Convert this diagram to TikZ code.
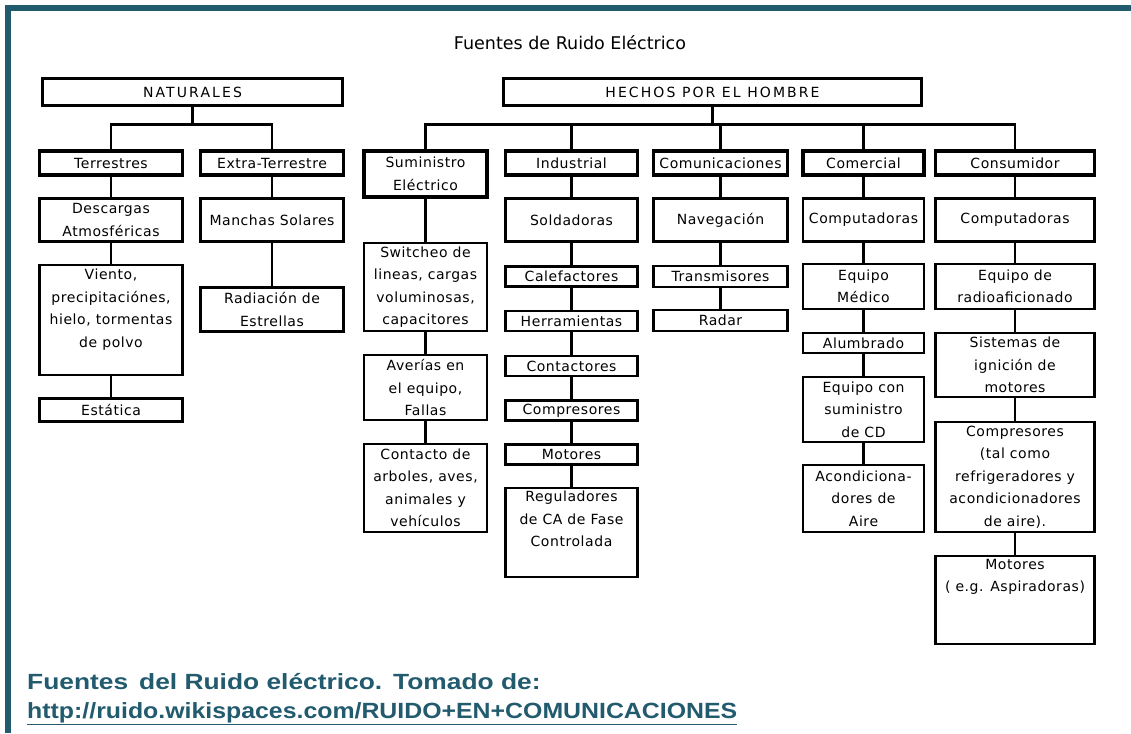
\documentclass[tikz,border=0pt]{standalone}
\usepackage{fontspec}
\usepackage{tikz}
\setmainfont{DejaVu Sans}
\newfontfamily\boxfont[LetterSpace=4]{DejaVu Sans}
\newfontfamily\capsfont[LetterSpace=15]{DejaVu Sans}
\newfontfamily\captionfont{Liberation Sans}
\definecolor{frameteal}{HTML}{225A6E}
\tikzstyle{box} = [draw, rectangle, line width=2.6pt, inner sep=0pt, align=center, font=\boxfont\fontsize{14}{22.5}\selectfont]
\tikzstyle{head} = [box, line width=3.4pt]
\tikzstyle{link} = [line width=2.4pt]
\tikzstyle{caption} = [anchor=base west, inner sep=0pt, xscale=1.13, text=frameteal, font=\captionfont\bfseries\fontsize{22}{26}\selectfont]

\begin{document}
\begin{tikzpicture}[x=1pt, y=-1pt]
        \useasboundingbox (0,0) rectangle (1131,733);
        % Frame
        \fill[frameteal] (5,5) rectangle (1131,11);
        \fill[frameteal] (5,5) rectangle (11,733);

        \node (title) at (570,43) {\fontsize{17.5}{20}\selectfont Fuentes de Ruido Eléctrico};

        % Top level
        \node[head, minimum width=300pt, minimum height=27pt, font=\capsfont\fontsize{14}{16}\selectfont] (nat) at (192.5,92) {NATURALES};
        \node[head, minimum width=418pt, minimum height=27pt, font=\capsfont\fontsize{14}{16}\selectfont] (hom) at (712.5,92) {HECHOS POR EL HOMBRE};

        % Naturales
        \node[head, minimum width=143pt, minimum height=24pt] (ter) at (111,163) {Terrestres};
        \node[head, minimum width=143pt, minimum height=24pt] (ext) at (272,163) {Extra-Terrestre};
        \node[box, minimum width=143pt, minimum height=43pt] (des) at (111,220) {Descargas\\Atmosféricas};
        \node[box, minimum width=143pt, minimum height=43pt] (man) at (272,220) {Manchas Solares};
        \node[box] (vie) at (111,320) {\parbox[c][110pt][t]{143pt}{\centering\vspace{4pt}Viento,\\precipitaciónes,\\hielo, tormentas\\de polvo}};
        \node[box, minimum width=143pt, minimum height=23pt] (est) at (111,410) {Estática};
        \node[box, minimum width=143pt, minimum height=44pt] (rad) at (272,309.5) {Radiación de\\Estrellas};

        % Hechos por el hombre
        \node[head, minimum width=123pt, minimum height=46pt] (sum) at (425.5,174) {Suministro\\Eléctrico};
        \node[head, minimum width=132pt, minimum height=24pt] (ind) at (571.5,163) {Industrial};
        \node[head, minimum width=134pt, minimum height=24pt] (com) at (720.5,163) {Comunicaciones};
        \node[head, minimum width=121pt, minimum height=24pt] (cme) at (863.5,163) {Comercial};
        \node[head, minimum width=159pt, minimum height=24pt] (con) at (1015,163) {Consumidor};

        \node[box, minimum width=123pt, minimum height=88pt] (swi) at (425.5,287) {Switcheo de\\lineas, cargas\\voluminosas,\\capacitores};
        \node[box, minimum width=123pt, minimum height=65pt] (ave) at (425.5,387.5) {Averías en\\el equipo,\\Fallas};
        \node[box, minimum width=123pt, minimum height=88pt] (cto) at (425.5,488) {Contacto de\\arboles, aves,\\animales y\\vehículos};

        \node[box, minimum width=132pt, minimum height=43pt] (sol) at (571.5,220) {Soldadoras};
        \node[box, minimum width=132pt, minimum height=20pt] (cal) at (571.5,276.5) {Calefactores};
        \node[box, minimum width=132pt, minimum height=20pt] (her) at (571.5,321) {Herramientas};
        \node[box, minimum width=132pt, minimum height=20pt] (ctr) at (571.5,366) {Contactores};
        \node[box, minimum width=132pt, minimum height=20pt] (cmp) at (571.5,410.5) {Compresores};
        \node[box, minimum width=132pt, minimum height=20pt] (mot) at (571.5,454.5) {Motores};
        \node[box] (reg) at (571.5,532.5) {\parbox[c][89pt][t]{132pt}{\centering\vspace{3pt}Reguladores\\de CA de Fase\\Controlada}};

        \node[box, minimum width=134pt, minimum height=43pt] (nav) at (720.5,220) {Navegación};
        \node[box, minimum width=134pt, minimum height=21pt] (tra) at (720.5,276.5) {Transmisores};
        \node[box, minimum width=134pt, minimum height=21pt] (rda) at (720.5,320.5) {Radar};

        \node[box, minimum width=121pt, minimum height=43pt] (cpa) at (863.5,220) {Computadoras};
        \node[box, minimum width=121pt, minimum height=45pt] (med) at (863.5,286.5) {Equipo\\Médico};
        \node[box, minimum width=121pt, minimum height=20pt] (alu) at (863.5,343) {Alumbrado};
        \node[box, minimum width=121pt, minimum height=65pt] (scd) at (863.5,409.5) {Equipo con\\suministro\\de CD};
        \node[box, minimum width=121pt, minimum height=67pt] (aco) at (863.5,498.5) {Acondiciona-\\dores de\\Aire};

        \node[box, minimum width=159pt, minimum height=43pt] (cpb) at (1015,220) {Computadoras};
        \node[box, minimum width=159pt, minimum height=45pt] (rdo) at (1015,286.5) {Equipo de\\radioaficionado};
        \node[box, minimum width=159pt, minimum height=64pt] (ign) at (1015,365) {Sistemas de\\ignición de\\motores};
        \node[box, minimum width=159pt, minimum height=110pt] (cmq) at (1015,477) {Compresores\\(tal como\\refrigeradores y\\acondicionadores\\de aire).};
        \node[box] (mtq) at (1015,600) {\parbox[c][88pt][t]{159pt}{\centering\vspace{3pt}Motores\\( e.g. Aspiradoras)}};

        % Buses
        \coordinate (natbus) at (192.5,124.5);
        \coordinate (hombus) at (712.5,124.5);
        \draw[link] (nat.south) -- (natbus);
        \draw[link] (ter.north) |- (natbus) -| (ext.north);
        \draw[link] (hom.south) -- (hombus);
        \draw[link] (sum.north) |- (hombus) -| (con.north);
        \draw[link] (ind.north) -- (ind.north |- hombus);
        \draw[link] (com.north) -- (com.north |- hombus);
        \draw[link] (cme.north) -- (cme.north |- hombus);

        % Columns
        \draw[link] (ter) -- (des);
        \draw[link] (des) -- (vie);
        \draw[link] (vie) -- (est);
        \draw[link] (ext) -- (man);
        \draw[link] (man) -- (rad);
        \draw[link] (sum) -- (swi);
        \draw[link] (swi) -- (ave);
        \draw[link] (ave) -- (cto);
        \draw[link] (ind) -- (sol);
        \draw[link] (sol) -- (cal);
        \draw[link] (cal) -- (her);
        \draw[link] (her) -- (ctr);
        \draw[link] (ctr) -- (cmp);
        \draw[link] (cmp) -- (mot);
        \draw[link] (mot) -- (reg);
        \draw[link] (com) -- (nav);
        \draw[link] (nav) -- (tra);
        \draw[link] (tra) -- (rda);
        \draw[link] (cme) -- (cpa);
        \draw[link] (cpa) -- (med);
        \draw[link] (med) -- (alu);
        \draw[link] (alu) -- (scd);
        \draw[link] (scd) -- (aco);
        \draw[link] (con) -- (cpb);
        \draw[link] (cpb) -- (rdo);
        \draw[link] (rdo) -- (ign);
        \draw[link] (ign) -- (cmq);
        \draw[link] (cmq) -- (mtq);

        % Caption
        \node[caption, xscale=1.06] (capa) at (27,689) {Fuentes\kern3pt\ del Ruido eléctrico.\kern3pt\ Tomado de:};
        \node[caption] (capb) at (27,718) {\underline{http://ruido.wikispaces.com/RUIDO+EN+COMUNICACIONES}};
\end{tikzpicture}
\end{document}
